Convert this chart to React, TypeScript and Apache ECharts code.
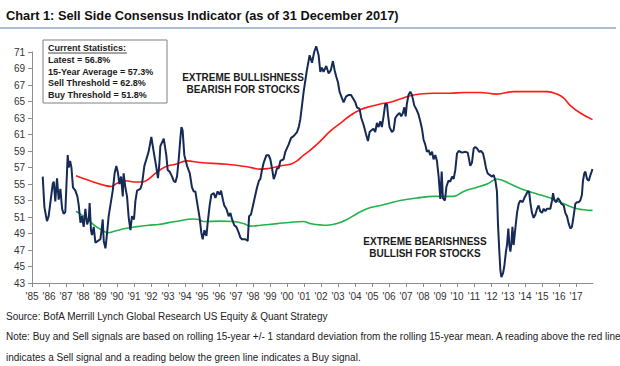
import React, { useEffect, useRef } from "react";
import * as echarts from "echarts";

// Sell Side Consensus Indicator (monthly-ish readings, decimal year)
const consensusYears = [
  1985.63, 1985.73, 1985.88, 1985.98, 1986.22, 1986.28, 1986.37, 1986.47, 1986.57, 1986.67, 1986.77, 1986.86, 1986.96,
  1987.1, 1987.16, 1987.24, 1987.32, 1987.41, 1987.55, 1987.67, 1987.75, 1987.85, 1987.94,
  1988.04, 1988.14, 1988.24, 1988.34, 1988.39, 1988.47, 1988.53, 1988.63, 1988.73, 1988.88,
  1989.02, 1989.08, 1989.16, 1989.22, 1989.32, 1989.39, 1989.51, 1989.61, 1989.75, 1989.86, 1989.96,
  1990.06, 1990.14, 1990.24, 1990.34, 1990.39, 1990.49, 1990.59, 1990.69, 1990.79, 1990.88,
  1991.0, 1991.08, 1991.18, 1991.37, 1991.47, 1991.61, 1991.86,
  1992.02, 1992.16, 1992.3, 1992.41, 1992.49, 1992.55, 1992.75, 1992.9, 1992.98,
  1993.1, 1993.24, 1993.33, 1993.43, 1993.53, 1993.63, 1993.73, 1993.79, 1993.86, 1993.96,
  1994.12, 1994.28, 1994.41, 1994.51, 1994.61, 1994.71, 1994.86, 1994.96,
  1995.04, 1995.14, 1995.26, 1995.33, 1995.45, 1995.55, 1995.69, 1995.79, 1995.92,
  1996.04, 1996.12, 1996.24, 1996.31, 1996.43, 1996.57, 1996.67, 1996.77, 1996.9,
  1997.02, 1997.16, 1997.26, 1997.35, 1997.55, 1997.69, 1997.77, 1997.88,
  1998.0, 1998.14, 1998.24, 1998.35, 1998.43, 1998.53, 1998.63, 1998.79, 1998.92,
  1999.02, 1999.12, 1999.22, 1999.31, 1999.41, 1999.51, 1999.61, 1999.8, 1999.9,
  2000.1, 2000.24, 2000.39, 2000.59, 2000.69, 2000.78, 2000.88, 2000.98,
  2001.17, 2001.33, 2001.47, 2001.6, 2001.72, 2001.86, 2001.96,
  2002.05, 2002.15, 2002.31, 2002.45, 2002.58, 2002.7, 2002.8, 2002.9,
  2003.0, 2003.09, 2003.23, 2003.33, 2003.47, 2003.62, 2003.76, 2003.88,
  2004.02, 2004.11, 2004.27, 2004.37, 2004.47, 2004.54, 2004.64, 2004.76, 2004.86, 2004.96,
  2005.09, 2005.19, 2005.29, 2005.39, 2005.49, 2005.58, 2005.68, 2005.78, 2005.88, 2005.94,
  2006.03, 2006.17, 2006.27, 2006.37, 2006.51, 2006.62, 2006.72, 2006.82, 2006.9, 2006.98,
  2007.05, 2007.15, 2007.25, 2007.35, 2007.49, 2007.6, 2007.74, 2007.84, 2007.94,
  2008.03, 2008.13, 2008.23, 2008.33, 2008.43, 2008.53, 2008.62, 2008.72, 2008.82, 2008.92,
  2009.02, 2009.1, 2009.17, 2009.29, 2009.38, 2009.5, 2009.6, 2009.71, 2009.8, 2009.9,
  2010.0, 2010.1, 2010.3, 2010.5, 2010.63, 2010.69, 2010.78, 2010.88, 2010.98,
  2011.08, 2011.18, 2011.31, 2011.41, 2011.53, 2011.61, 2011.71, 2011.8, 2011.92,
  2012.06, 2012.16, 2012.26, 2012.35, 2012.41, 2012.49, 2012.55, 2012.61, 2012.71, 2012.78, 2012.88, 2012.94,
  2013.02, 2013.08, 2013.14, 2013.2, 2013.26, 2013.33, 2013.43, 2013.53, 2013.63, 2013.73, 2013.86, 2013.96,
  2014.06, 2014.16, 2014.24, 2014.31, 2014.41, 2014.51, 2014.61, 2014.71, 2014.8, 2014.9,
  2015.0, 2015.1, 2015.2, 2015.29, 2015.49, 2015.59, 2015.65, 2015.73, 2015.84, 2015.94,
  2016.04, 2016.14, 2016.28, 2016.37, 2016.47, 2016.57, 2016.67, 2016.76, 2016.86, 2016.96,
  2017.06, 2017.16, 2017.25, 2017.35, 2017.41, 2017.49, 2017.55, 2017.65, 2017.75, 2017.85, 2017.92, 2017.97,
];
const consensusValues = [
  55.9, 52.2, 50.5, 51.1, 55.0, 55.3, 52.9, 55.7, 53.1, 54.4, 52.0, 51.4, 51.6,
  58.5, 57.0, 57.8, 57.0, 54.6, 54.2, 53.5, 52.4, 50.3, 51.1,
  49.8, 52.0, 50.1, 50.7, 52.7, 49.4, 48.8, 49.8, 47.9, 48.1,
  48.3, 49.2, 50.7, 48.1, 47.2, 48.5, 51.1, 52.4, 54.2, 56.3, 57.2,
  56.3, 55.0, 55.9, 53.5, 56.3, 54.6, 53.5, 50.9, 49.4, 51.1,
  50.7, 52.9, 54.2, 54.4, 55.0, 57.2, 58.9,
  60.7, 58.9, 57.2, 55.7, 57.4, 59.6, 60.5, 58.5, 56.7,
  56.5, 55.9, 55.4, 55.2, 55.9, 58.0, 60.6, 61.9, 61.5, 58.5,
  57.2, 56.3, 54.6, 54.1, 54.1, 52.8, 50.9, 49.1,
  48.3, 49.4, 48.7, 50.2, 52.4, 53.7, 53.9, 53.3, 54.1,
  53.7, 54.2, 53.0, 52.4, 52.0, 51.1, 51.5, 50.7, 50.0,
  49.8, 49.1, 48.5, 48.3, 48.3, 48.1, 51.1, 51.3,
  52.4, 53.7, 54.6, 55.4, 55.6, 56.7, 57.6, 58.5, 58.5,
  58.0, 56.9, 55.6, 56.1, 56.9, 56.9, 57.8, 58.0, 58.9,
  59.8, 60.6, 60.8, 61.3, 61.9, 62.8, 64.5, 66.2,
  68.8, 70.6, 69.7, 71.0, 71.7, 70.6, 68.6,
  69.1, 68.6, 69.3, 68.4, 68.8, 69.9, 68.8, 68.0,
  67.3, 66.2, 65.4, 64.9, 65.6, 65.8, 65.8, 65.4,
  64.9, 64.3, 64.1, 63.0, 62.4, 61.9, 61.1, 60.2, 61.3, 61.5,
  61.7, 61.3, 62.4, 61.9, 62.6, 61.9, 63.2, 64.7, 64.7, 63.4,
  61.9, 61.3, 61.5, 63.0, 63.4, 63.6, 63.2, 63.6, 64.3, 63.2,
  64.7, 65.8, 66.2, 65.8, 64.5, 64.1, 63.4, 62.6, 61.7,
  60.4, 59.8, 58.9, 59.1, 58.5, 58.9, 58.0, 58.5, 57.8, 55.9,
  53.2, 56.5, 53.3, 53.0, 54.7, 55.4, 55.3, 55.9, 55.6, 56.7,
  58.7, 59.0, 58.8, 58.9, 58.8, 58.2, 57.2, 57.6, 59.3,
  59.5, 59.3, 58.9, 59.0, 58.7, 58.0, 56.9, 56.3, 56.1,
  55.9, 56.1, 55.4, 54.1, 50.2, 46.8, 44.6, 43.7, 44.2, 45.0, 46.8, 47.6,
  49.6, 47.6, 46.8, 47.8, 49.8, 47.6, 49.6, 51.5, 52.6, 53.0, 52.8, 53.3,
  53.7, 54.1, 54.1, 52.8, 51.5, 50.9, 51.3, 52.0, 52.4, 51.7,
  51.5, 52.0, 51.7, 52.0, 52.0, 53.0, 53.9, 53.0, 52.8, 53.3,
  53.0, 52.6, 52.4, 51.5, 51.1, 50.2, 49.6, 49.8, 51.1, 52.6,
  52.8, 52.8, 53.0, 53.7, 55.4, 56.3, 56.5, 55.6, 55.4, 56.1, 56.5, 56.8,
];

// Sell threshold (rolling mean + 1 sd)
const sellYears = [
  1987.59, 1988.53, 1989.32, 1989.67, 1990.0, 1990.49, 1990.98, 1991.47, 1991.8, 1992.26, 1992.85, 1993.43,
  1994.12, 1994.9, 1996.47, 1997.65, 1998.43, 1999.0, 1999.61, 2000.2, 2000.59, 2000.98, 2001.37, 2001.96,
  2002.54, 2003.13, 2003.72, 2004.31, 2004.9, 2005.49, 2006.07, 2006.66, 2007.25, 2007.84, 2008.62, 2009.6,
  2010.39, 2011.37, 2012.35, 2013.33, 2014.31, 2015.3, 2015.88, 2016.28, 2016.67, 2017.25, 2017.97,
];
const sellValues = [
  56.0, 55.3, 54.8, 54.7, 55.1, 55.4, 55.25, 55.25, 55.5, 56.3, 57.1, 57.4,
  57.8, 57.6, 57.4, 57.1, 56.8, 56.9, 57.2, 57.4, 57.8, 58.5, 59.1, 60.2,
  61.4, 62.35, 63.3, 64.0, 64.4, 64.7, 64.9, 65.3, 65.7, 65.9, 66.0, 66.0,
  66.1, 66.1, 65.9, 66.2, 66.2, 66.2, 65.9, 65.4, 64.5, 63.6, 62.8,
];

// Buy threshold (rolling mean - 1 sd)
const buyYears = [
  1987.59, 1987.85, 1988.24, 1988.63, 1989.12, 1989.47, 1989.9, 1990.49, 1991.08, 1991.86, 1992.45, 1993.43,
  1994.51, 1994.8, 1995.1, 1996.08, 1996.86, 1997.45, 1997.84, 1998.43, 1999.41, 2000.39, 2000.98, 2001.37,
  2002.35, 2002.94, 2003.53, 2004.11, 2004.7, 2005.49, 2006.07, 2006.66, 2007.64, 2008.62, 2009.41, 2009.8,
  2010.39, 2011.18, 2011.77, 2012.35, 2013.14, 2013.92, 2014.71, 2015.49, 2016.28, 2017.06, 2017.97,
];
const buyValues = [
  51.7, 51.35, 50.8, 50.05, 49.4, 49.1, 49.3, 49.6, 49.8, 50.0, 50.1, 50.45,
  50.75, 50.7, 50.45, 50.5, 50.45, 50.2, 49.9, 50.0, 50.2, 50.4, 50.45, 50.2,
  50.0, 50.2, 50.7, 51.4, 52.0, 52.4, 52.7, 53.0, 53.3, 53.5, 53.5, 53.5,
  54.1, 54.6, 55.0, 55.6, 55.0, 54.3, 53.8, 53.3, 52.6, 52.0, 51.8,
];

// Axis ticks
const yearTicks = { min: 1985, max: 2018 };
const valueTicks = { min: 43, max: 71, step: 2 };

const titleText = "Chart 1: Sell Side Consensus Indicator (as of 31 December 2017)";
const statsTitle = "Current Statistics:";
const statsLines = [
  "Latest = 56.8%",
  "15-Year Average = 57.3%",
  "Sell Threshold = 62.8%",
  "Buy Threshold = 51.8%",
];
const bullLines = ["EXTREME BULLISHNESS", "BEARISH FOR STOCKS"];
const bearLines = ["EXTREME BEARISHNESS", "BULLISH FOR STOCKS"];
const footerLines = [
  "Source: BofA Merrill Lynch Global Research US Equity & Quant Strategy",
  "Note: Buy and Sell signals are based on rolling 15-year +/- 1 standard deviation from the rolling 15-year mean. A reading above the red line",
  "indicates a Sell signal and a reading below the green line indicates a Buy signal.",
];

const FONT = '"Liberation Sans", Arial, Helvetica, sans-serif';

function pairs(xs: number[], ys: number[]) {
  return xs.map((x, i) => [x, ys[i]]);
}

export default function App() {
  const ref = useRef<HTMLDivElement>(null);
  useEffect(() => {
    if (!ref.current) return;
    const chart = echarts.init(ref.current, null, { renderer: "svg" });
    const txt = (text: string, x: number, y: number, font: string, align = "left", fill = "#1a1a1a") => ({
      type: "text",
      silent: true,
      style: { text, x, y, font, fill, textAlign: align, textVerticalAlign: "middle" },
    });
    const graphic: any[] = [
      txt(titleText, 6, 15, `bold 12.8px ${FONT}`, "left", "#111"),
      { type: "line", silent: true, shape: { x1: 0, y1: 28, x2: 616, y2: 28 }, style: { stroke: "#8fa9c6", lineWidth: 1.5 } },
      { type: "rect", silent: true, shape: { x: 43, y: 40, width: 124, height: 63 }, style: { fill: "#fff", stroke: "#808080", lineWidth: 1 } },
      txt(statsTitle, 48, 48, `bold 9px ${FONT}`),
      { type: "line", silent: true, shape: { x1: 48, y1: 53, x2: 127, y2: 53 }, style: { stroke: "#1a1a1a", lineWidth: 0.8 } },
      ...statsLines.map((s, i) => txt(s, 48, 60 + i * 11.5, `bold 9px ${FONT}`)),
      ...bullLines.map((s, i) => txt(s, 243, 77 + i * 12, `bold 10px ${FONT}`, "center")),
      ...bearLines.map((s, i) => txt(s, 425, 241 + i * 12.5, `bold 10px ${FONT}`, "center")),
      ...footerLines.map((s, i) => txt(s, 6, 316 + i * 20.5, `10px ${FONT}`, "left", "#222")),
    ];
    chart.setOption({
      animation: false,
      backgroundColor: "#fff",
      grid: { left: 32, right: 27, top: 52, bottom: 83, containLabel: false },
      xAxis: {
        type: "value",
        min: yearTicks.min,
        max: yearTicks.max,
        interval: 1,
        axisLine: { show: true, lineStyle: { color: "#8c8c8c", width: 1 } },
        axisTick: { show: true, length: 4, lineStyle: { color: "#8c8c8c" } },
        splitLine: { show: false },
        axisLabel: {
          color: "#333",
          fontSize: 10,
          fontFamily: FONT,
          margin: 8,
          showMaxLabel: false,
          formatter: (v: number) => (v >= yearTicks.max ? "" : "'" + String(v).slice(2)),
        },
      },
      yAxis: {
        type: "value",
        min: valueTicks.min,
        max: valueTicks.max,
        interval: valueTicks.step,
        axisLine: { show: true, lineStyle: { color: "#8c8c8c", width: 1 } },
        axisTick: { show: true, length: 4, lineStyle: { color: "#8c8c8c" } },
        splitLine: { show: false },
        axisLabel: { color: "#333", fontSize: 10, fontFamily: FONT, margin: 7 },
      },
      series: [
        {
          name: "Sell Threshold",
          type: "line",
          data: pairs(sellYears, sellValues),
          showSymbol: false,
          smooth: 0.4,
          lineStyle: { color: "#ff1a1a", width: 1.6 },
          z: 2,
        },
        {
          name: "Buy Threshold",
          type: "line",
          data: pairs(buyYears, buyValues),
          showSymbol: false,
          smooth: 0.4,
          lineStyle: { color: "#22b34a", width: 1.6 },
          z: 2,
        },
        {
          name: "Sell Side Consensus Indicator",
          type: "line",
          data: pairs(consensusYears, consensusValues),
          showSymbol: false,
          clip: false,
          lineStyle: { color: "#162a56", width: 2 },
          z: 3,
        },
      ],
      graphic,
    });
    return () => chart.dispose();
  }, []);
  return (
    <div
      ref={ref}
      style={{ position: "absolute", left: 0, top: 0, width: 620, height: 366, background: "#fff" }}
    />
  );
}
